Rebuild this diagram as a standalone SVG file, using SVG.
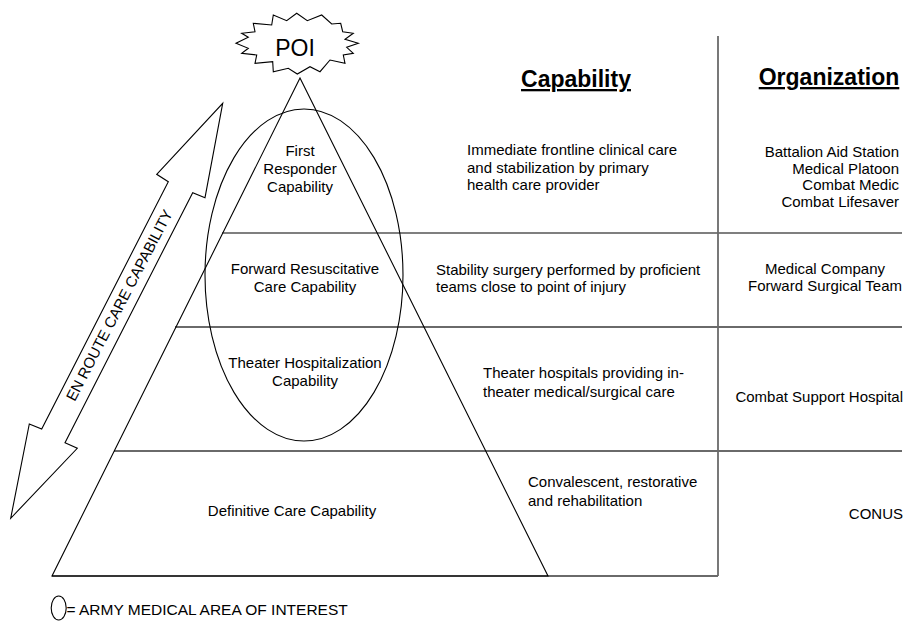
<svg xmlns="http://www.w3.org/2000/svg" width="907" height="625" viewBox="0 0 907 625">
<style>
text{font-family:"Liberation Sans",Arial,sans-serif;font-size:15px;fill:#000}
.h{font-size:23px;font-weight:bold;text-decoration:underline}
.c{text-anchor:middle}
.r{text-anchor:end}
.ln{stroke:#000;stroke-width:1.1;fill:none}
.gl{stroke:#6a6a6a;stroke-width:1.8;fill:none}
</style>
<rect width="907" height="625" fill="#fff"/>
<g id="grid">
<line class="ln" x1="222" y1="233" x2="902" y2="233"/>
<line class="gl" x1="175" y1="327" x2="902" y2="327"/>
<line class="gl" x1="114" y1="451" x2="902" y2="451"/>
<line class="gl" x1="52" y1="576" x2="718" y2="576"/>
<line class="gl" x1="718" y1="36" x2="718" y2="576"/>
</g>
<g id="pyramid">
<polygon class="ln" points="300,78 52,576 548,576"/>
</g>
<g id="ellipse">
<ellipse class="ln" cx="304" cy="275" rx="99" ry="166"/>
</g>
<g id="poi">
<polygon class="ln" fill="#fff" points="296.7,13.3 307.3,20.7 321.7,15 331.7,24 340.7,23.3 342.7,31.7 353.3,33.3 345,39.3 358.3,43.3 346.7,47.3 353.3,53.3 343.3,55 345,63.3 330,60 320,71.7 310,66.7 297.3,74 288.3,68.3 273.3,71.7 272.7,61.7 255,63.3 256.7,55 241.7,53.3 248.3,48.3 236,43.3 248.3,37.3 241.7,33.3 255,31.7 253.3,23.3 271.7,25 273.3,15 286.7,20.7"/>
<text class="c" x="295" y="56" style="font-size:23px">POI</text>
</g>
<g id="enroute">
<polygon class="ln" fill="#fff" points="222.7,103.3 205,197.7 192.7,192.7 65,442.7 77.3,448.3 10.7,518.3 29.3,424 41.7,429 168.3,181.7 156.7,174.3"/>
<text class="c" x="119" y="305" dominant-baseline="central" transform="rotate(-62.5 119 305)">EN ROUTE CARE CAPABILITY</text>
</g>
<g id="levels">
<text class="c" x="300" y="156">First</text>
<text class="c" x="300" y="174">Responder</text>
<text class="c" x="300" y="191.5">Capability</text>
<text class="c" x="305" y="274">Forward Resuscitative</text>
<text class="c" x="305" y="292">Care Capability</text>
<text class="c" x="305" y="368">Theater Hospitalization</text>
<text class="c" x="305" y="386">Capability</text>
<text class="c" x="292" y="516">Definitive Care Capability</text>
</g>
<g id="capability">
<text class="h c" x="576" y="87">Capability</text>
<text x="467" y="155">Immediate frontline clinical care</text>
<text x="467" y="172.5">and stabilization by primary</text>
<text x="467" y="190">health care provider</text>
<text x="436" y="275">Stability surgery performed by proficient</text>
<text x="436" y="292.3">teams close to point of injury</text>
<text x="483" y="378.3">Theater hospitals providing in-</text>
<text x="483" y="396.5">theater medical/surgical care</text>
<text x="528" y="487.3">Convalescent, restorative</text>
<text x="528" y="505.5">and rehabilitation</text>
</g>
<g id="organization">
<text class="h c" x="829" y="85">Organization</text>
<text class="r" x="899" y="157">Battalion Aid Station</text>
<text class="r" x="899" y="173.5">Medical Platoon</text>
<text class="r" x="899" y="190">Combat Medic</text>
<text class="r" x="899" y="206.5">Combat Lifesaver</text>
<text class="c" x="825" y="274">Medical Company</text>
<text class="c" x="825" y="291">Forward Surgical Team</text>
<text class="r" x="903" y="401.7">Combat Support Hospital</text>
<text class="r" x="903" y="518.5">CONUS</text>
</g>
<g id="legend">
<ellipse class="ln" cx="58.7" cy="608" rx="7.5" ry="12"/>
<text x="66.5" y="615" style="font-size:15.5px">= ARMY MEDICAL AREA OF INTEREST</text>
</g>
</svg>
